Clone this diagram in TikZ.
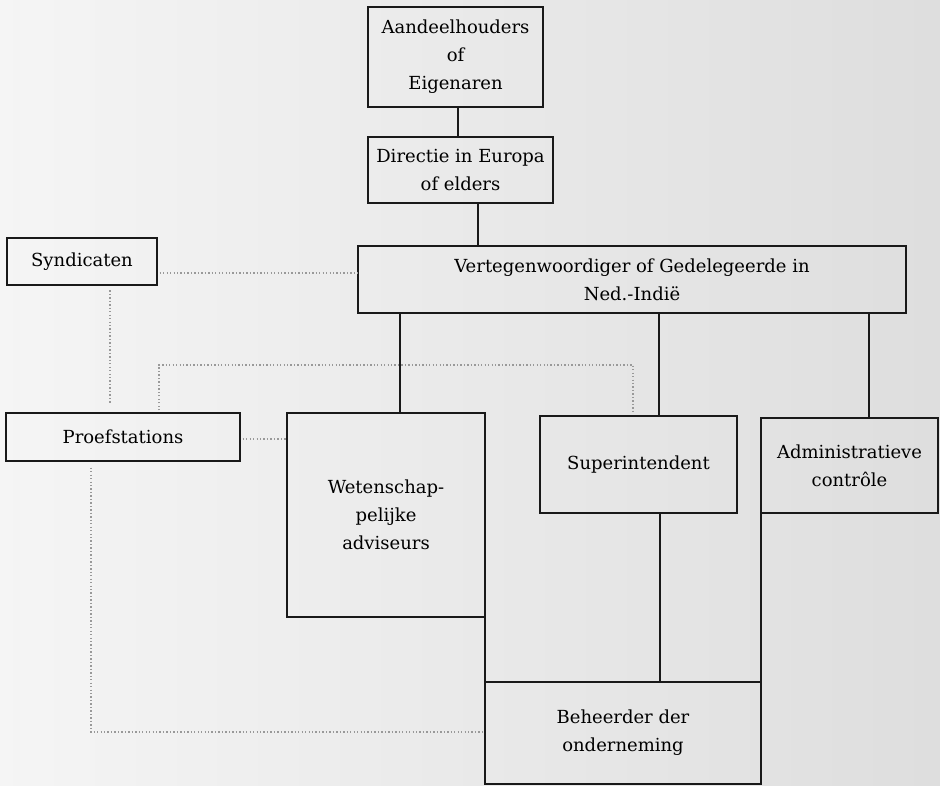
\documentclass[tikz,border=0pt]{standalone}
\usepackage{fontspec}
\setmainfont{DejaVu Serif}
\begin{document}
\begin{tikzpicture}[x=0.75pt,y=-0.75pt,
  orgbox/.style={draw=black!90, line width=1.8pt, inner sep=0pt, outer sep=0pt, align=center,
    font=\fontsize{13.5}{21}\selectfont, text=black},
  solidline/.style={draw=black!90, line width=1.6pt},
  dotline/.style={draw=black!40, line width=1pt, dash pattern=on 1pt off 1.6pt}]
\shade[left color=white!96!black, right color=black!13] (0,0) rectangle (940,786);
\path[use as bounding box] (0,0) rectangle (940,786);

\node[orgbox, minimum width=131.25pt, minimum height=75pt] (aand) at (455.5,57) {Aandeelhouders\\of\\Eigenaren};
\node[orgbox, minimum width=138.75pt, minimum height=49.5pt] (dir) at (460.5,170) {\raisebox{-4pt}{\parbox{130pt}{\centering Directie in Europa\\of elders}}};
\node[orgbox, minimum width=411pt, minimum height=50.25pt] (verteg) at (632,279.5) {Vertegenwoordiger of Gedelegeerde in\\Ned.-Indië};
\node[orgbox, minimum width=112.5pt, minimum height=35.25pt] (synd) at (82,261.5) {Syndicaten};
\node[orgbox, minimum width=175.5pt, minimum height=36pt] (proef) at (123,437) {Proefstations};
\node[orgbox, minimum width=148.5pt, minimum height=153pt] (wet) at (386,515) {Wetenschap-\\pelijke\\adviseurs};
\node[orgbox, minimum width=147.75pt, minimum height=72.75pt] (sup) at (638.5,464.5) {\raisebox{3pt}{Superintendent}};
\node[orgbox, minimum width=132.75pt, minimum height=71.25pt] (adm) at (849.5,465.5) {Administratieve\\contrôle};
\node[orgbox, minimum width=207pt, minimum height=76.5pt] (beh) at (623,733) {Beheerder der\\onderneming};

% solid connectors
\draw[solidline] ([xshift=2pt]aand.south) coordinate (t1) -- (t1 |- dir.north);
\draw[solidline] ([xshift=13.1pt]dir.south) coordinate (d1) -- (d1 |- verteg.north);
\draw[solidline] ([xshift=10.5pt]wet.north) coordinate (w1) -- (w1 |- verteg.south);
\draw[solidline] ([xshift=15.4pt]sup.north) coordinate (s1) -- (s1 |- verteg.south);
\draw[solidline] ([xshift=14.6pt]adm.north) coordinate (a1) -- (a1 |- verteg.south);
\draw[solidline] ([xshift=16.1pt]sup.south) coordinate (s2) -- (s2 |- beh.north);
\draw[solidline] (wet.south east) -- (wet.south east |- beh.north);
\draw[solidline] (adm.south west) -- (adm.south west |- beh.north);

% dotted connectors
\coordinate (loopy) at (0,365);
\coordinate (s3) at ([xshift=-4.1pt]sup.north);
\draw[dotline, shorten <=2pt] ([yshift=-8.6pt]synd.east) coordinate (sy1) -- (sy1 -| verteg.west);
\draw[dotline, shorten <=4pt, shorten >=7pt] ([xshift=21pt]synd.south) coordinate (sy2) -- (sy2 |- proef.north);
\draw[dotline, shorten <=2pt] ([yshift=-1.5pt]proef.east) coordinate (p0) -- (p0 -| wet.west);
\draw[dotline, shorten <=2pt, shorten >=2pt] ([xshift=27pt]proef.north) coordinate (p1) |- (loopy -| s3) -- (s3);
\draw[dotline, shorten <=5pt] ([xshift=-24pt]proef.south) coordinate (p2) |- ([yshift=0.75pt]beh.west);
\end{tikzpicture}
\end{document}
